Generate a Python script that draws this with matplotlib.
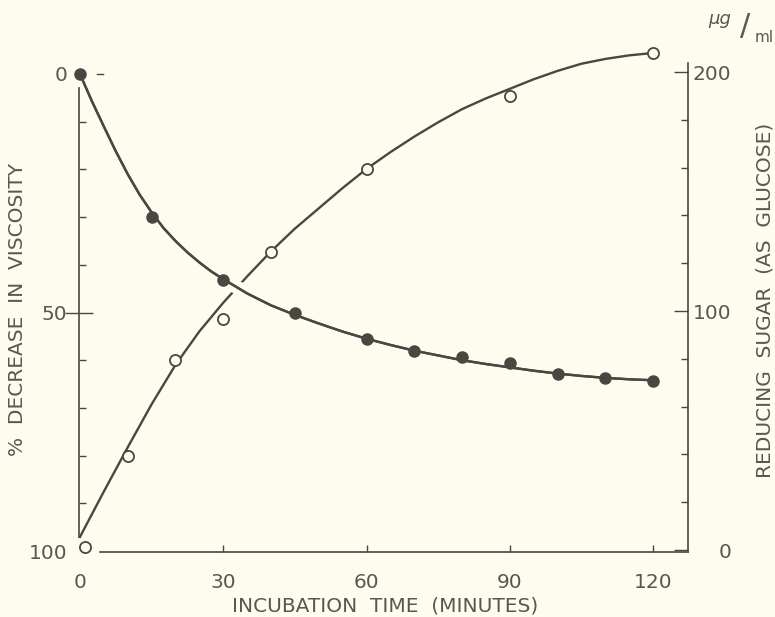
import numpy as np
import matplotlib
matplotlib.use("Agg")
import matplotlib.pyplot as plt
import matplotlib.patheffects as pe
import matplotlib.transforms as mtransforms

# viscosity (filled circles), % decrease, left axis
visc_t = [0, 15, 30, 45, 60, 70, 80, 90, 100, 110, 120]
visc_pts = [0, 30, 43.2, 50.1, 55.6, 58.1, 59.3, 60.6, 62.9, 63.7, 64.4]
visc_curve_t = [0, 2.5, 5, 7.5, 10, 12.5, 15, 17.5, 20, 22.5, 25, 27.5, 30, 35, 40, 45,
                50, 55, 60, 65, 70, 75, 80, 85, 90, 95, 100, 105, 110, 115, 120]
visc_curve = [0, 5.7, 11, 16.2, 21, 25.3, 29, 32.3, 35, 37.4, 39.5, 41.4, 43, 46, 48.5, 50.5,
              52.3, 54, 55.5, 56.8, 58, 59, 60, 60.8, 61.5, 62.2, 62.8, 63.3, 63.7, 64.0, 64.2]

# reducing sugar (open circles), ug/ml, right axis
sugar_t = [1, 10, 20, 30, 40, 60, 90, 120]
sugar_pts = [1.3, 39.3, 79.5, 96.7, 124.7, 159.4, 190, 208]
sugar_curve_t = [0, 5, 10, 15, 20, 25, 30, 35, 40, 45, 50, 55, 60,
                 65, 70, 75, 80, 85, 90, 95, 100, 105, 110, 115, 120]
sugar_curve = [5.5, 24.5, 43, 61, 77.5, 91.5, 103.5, 114.5, 125, 134.5, 143, 151.5, 159.5,
               166.5, 173, 179, 184.5, 189, 193, 197, 200.5, 203.5, 205.5, 207, 208]

x_ticks = [0, 30, 60, 90, 120]
left_ticks = [0, 50, 100]
left_minor = [10, 20, 30, 40, 60, 70, 80, 90]
right_ticks = [0, 100, 200]
right_minor = [20, 40, 60, 80, 120, 140, 160, 180]

bg = '#fdfcef'
ink = '#4a4642'
txt = '#5a5652'
plt.rcParams['font.family'] = ['DejaVu Sans']

W, H = 775, 617
fs = 14.5
fig = plt.figure(figsize=(W / 100, H / 100), dpi=100, facecolor=bg)
rect = [79 / W, 65 / H, 609 / W, 489 / H]
ax1 = fig.add_axes(rect)
ax2 = ax1.twinx()
ax1.set_zorder(ax2.get_zorder() + 1)
ax1.patch.set_visible(False)
ax2.patch.set_facecolor(bg)

ax1.set_xlim(-0.2, 127.3)
ax1.set_ylim(100.2, -2.3)
ax2.set_ylim(-0.8, 203.8)

# sugar curve and open circles
ax2.plot(sugar_curve_t, sugar_curve, color=ink, lw=1.7, zorder=2, clip_on=False)
ax2.plot(sugar_t, sugar_pts, 'o', ms=8, mfc=bg, mec=ink, mew=1.3, zorder=4, clip_on=False)

# viscosity curve drawn over the sugar curve with a gap
ax1.plot(visc_curve_t, visc_curve, color=ink, lw=1.7, zorder=2, clip_on=False,
         path_effects=[pe.withStroke(linewidth=10, foreground=bg), pe.Normal()])
ax1.plot(visc_t, visc_pts, 'o', ms=8, color=ink, zorder=4, clip_on=False)

for s in ['top', 'right']:
    ax1.spines[s].set_visible(False)
for s in ['top', 'left', 'bottom']:
    ax2.spines[s].set_visible(False)
for sp in [ax1.spines['left'], ax1.spines['bottom'], ax2.spines['right']]:
    sp.set_color(ink)
    sp.set_linewidth(1.2)
ax1.spines['left'].set_bounds(2.9, 97.1)
ax1.spines['bottom'].set_bounds(4.2, 127.3)

ax1.set_xticks(x_ticks)
ax1.set_xticklabels([str(v) for v in x_ticks])
ax1.tick_params(axis='x', direction='in', length=5, width=1, color=ink,
                labelsize=fs, labelcolor=txt, pad=15)
ax1.xaxis.get_major_ticks()[0].tick1line.set_visible(False)

ax1.set_yticks(left_ticks)
ax1.set_yticklabels([str(v) for v in left_ticks])
ax1.set_yticks(left_minor, minor=True)
ax1.tick_params(axis='y', which='major', direction='inout', length=20, width=1,
                color=ink, labelsize=fs, labelcolor=txt, pad=-1.5)
ax1.tick_params(axis='y', which='minor', direction='in', length=5, width=1, color=ink)
ax1.yaxis.get_major_ticks()[0].tick1line.set_visible(False)
ax1.yaxis.get_major_ticks()[2].tick1line.set_visible(False)

# small dash beside the 0 mark
trans = mtransforms.blended_transform_factory(ax1.transAxes, ax1.transData)
ax1.plot([0.030, 0.040], [0, 0], color=ink, lw=1, transform=trans, clip_on=False)

ax2.set_yticks(right_ticks)
ax2.set_yticklabels([str(v) for v in right_ticks])
ax2.set_yticks(right_minor, minor=True)
ax2.tick_params(axis='y', which='major', direction='in', length=10, width=1,
                color=ink, labelsize=fs, labelcolor=txt, pad=31)
ax2.tick_params(axis='y', which='minor', direction='in', length=5, width=1, color=ink)
for lab in ax2.get_yticklabels():
    lab.set_horizontalalignment('right')

fig.text(385 / W, 1 - 606 / H, 'INCUBATION  TIME  (MINUTES)', ha='center', va='center',
         fontsize=fs, color=txt)
fig.text(18 / W, 1 - 310 / H, '%  DECREASE  IN  VISCOSITY', ha='center', va='center',
         rotation=90, fontsize=fs, color=txt)
fig.text(765 / W, 1 - 300 / H, 'REDUCING  SUGAR  (AS  GLUCOSE)', ha='center', va='center',
         rotation=90, fontsize=fs, color=txt)
fig.text(720 / W, 1 - 19 / H, '\u03bcg', ha='center', va='center', fontsize=13,
         style='italic', color=txt)
fig.text(745 / W, 1 - 27 / H, '/', ha='center', va='center', fontsize=22, color=txt)
fig.text(764 / W, 1 - 37 / H, 'ml', ha='center', va='center', fontsize=11, color=txt)

fig.savefig('out.png', dpi=100, facecolor=bg)
